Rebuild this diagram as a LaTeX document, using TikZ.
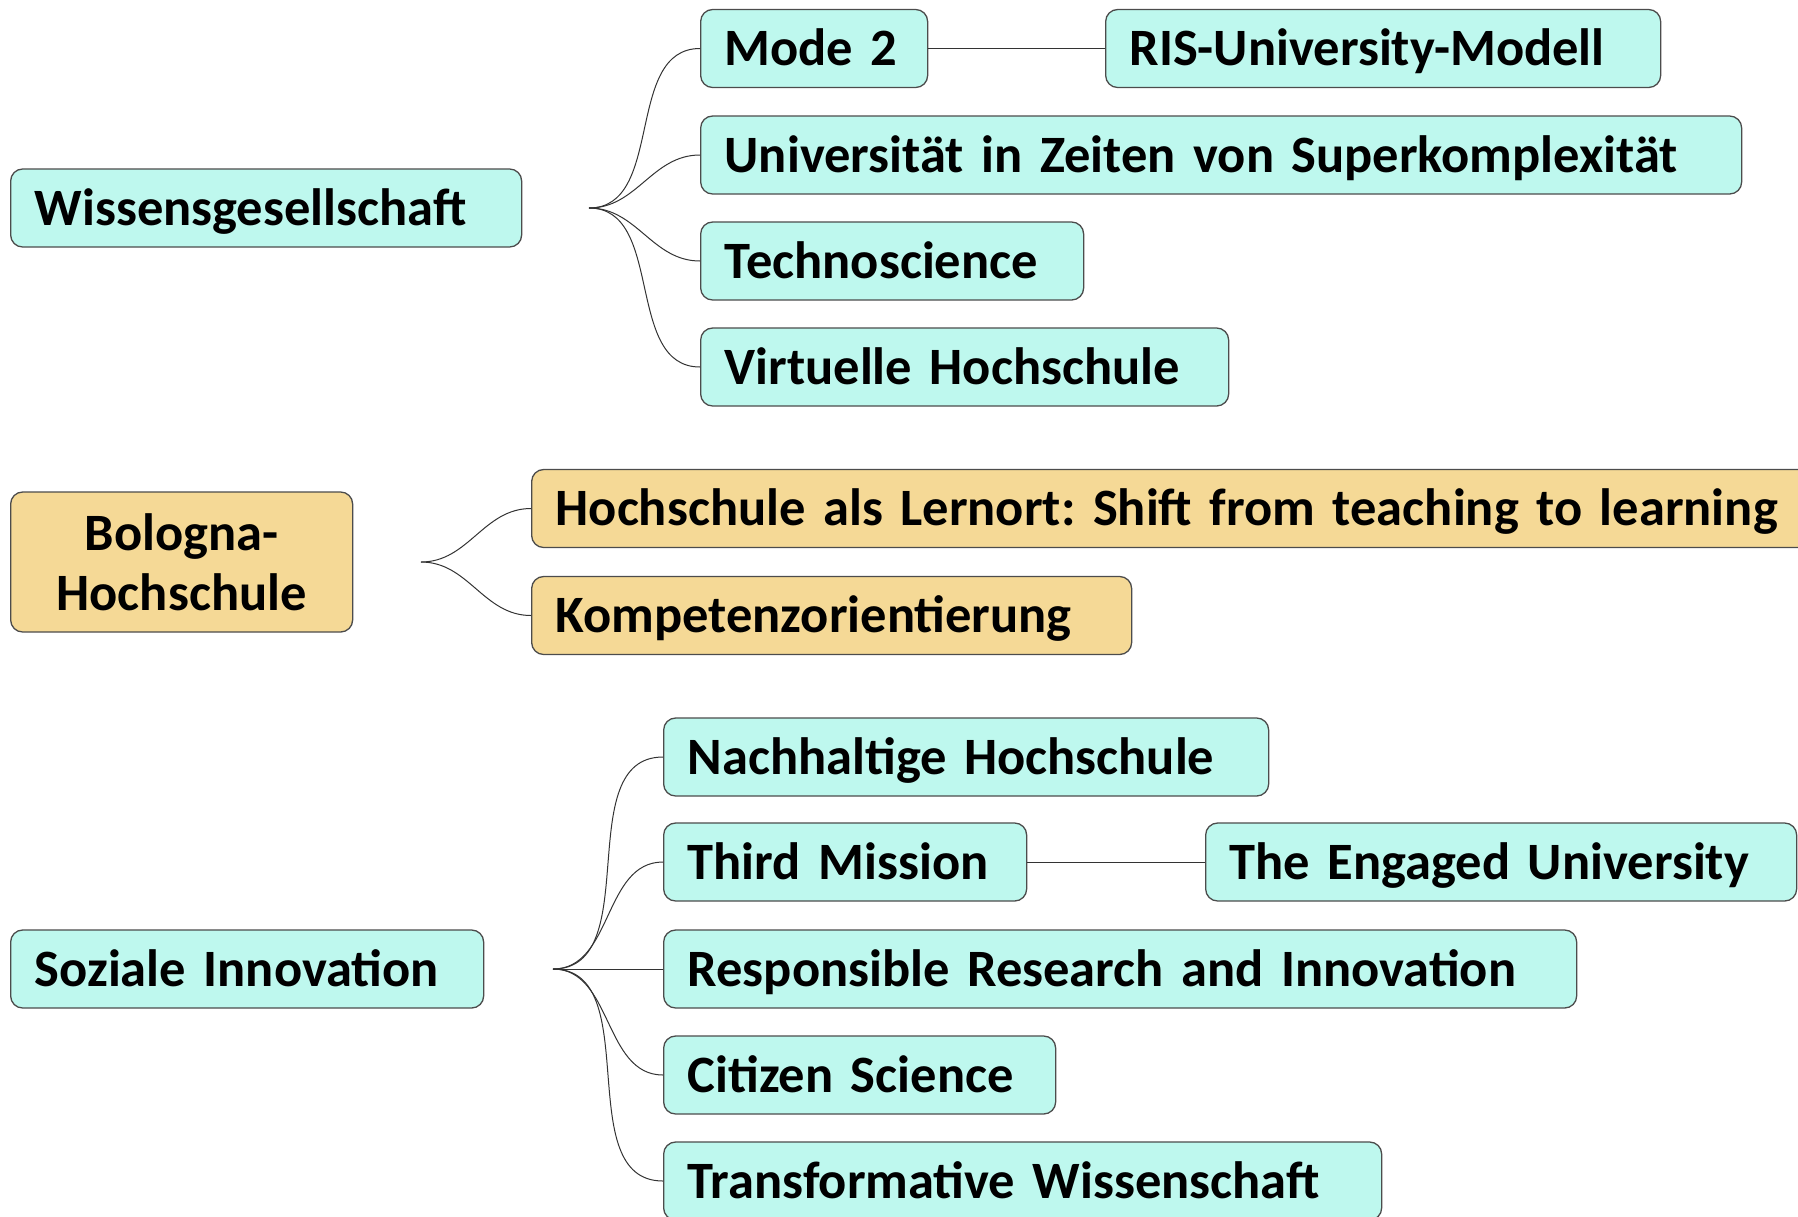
\documentclass[tikz,border=0pt]{standalone}
\usepackage{fontspec}
\setmainfont{Carlito}

\definecolor{mint}{RGB}{190,248,238}
\definecolor{sand}{RGB}{245,217,150}

\begin{document}
\frenchspacing
\begin{tikzpicture}[x=1pt,y=-1pt,
  box/.style={draw=black!70, line width=1.3pt, rounded corners=12pt,
    inner xsep=24pt, inner ysep=0pt, minimum height=78pt, anchor=west,
    align=left, font=\fontsize{52.5}{60}\selectfont\bfseries},
  line1/.style={text height=34pt, text depth=0pt},
  blue/.style={box, line1, fill=mint},
  gold/.style={box, fill=sand},
  link/.style={draw=black!80, line width=1pt}]
\useasboundingbox (0,0) rectangle (1798,1216);

\node[blue, text width=463pt] (wiss) at (10,208) {Wissensgesellschaft};
\node[blue, text width=179pt] (mode) at (700,48.5) {Mode 2};
\node[blue, text width=507pt] (ris) at (1105,48.5) {RIS-University-Modell};
\node[blue, text width=993pt] (uni) at (700,155) {Universität in Zeiten von Superkomplexität};
\node[blue, text width=335pt] (techno) at (700,261) {Technoscience};
\node[blue, text width=480pt] (virt) at (700,367) {Virtuelle Hochschule};

\node[gold, text width=294pt, minimum height=140pt, align=center] (bologna) at (10,562) {Bologna-\\Hochschule};
\node[gold, line1, text width=1252pt] (lern) at (531,508.5) {Hochschule als Lernort: Shift from teaching to learning};
\node[gold, line1, text width=552pt] (komp) at (531,615.5) {Kompetenzorientierung};

\node[blue, text width=425pt] (sozial) at (10,969) {Soziale Innovation};
\node[blue, text width=557pt] (nach) at (663,757) {Nachhaltige Hochschule};
\node[blue, text width=315pt] (third) at (663,862) {Third Mission};
\node[blue, text width=543pt] (engaged) at (1205,862) {The Engaged University};
\node[blue, text width=865pt] (rri) at (663,969) {Responsible Research and Innovation};
\node[blue, text width=344pt] (citizen) at (663,1075) {Citizen Science};
\node[blue, text width=670pt] (trans) at (663,1181) {Transformative Wissenschaft};

\coordinate (hubW) at (589,208);
\coordinate (hubB) at (421,562);
\coordinate (hubS) at (553,969);

\foreach \n in {mode,uni,techno,virt}
  \draw[link] (hubW) to[out=0,in=180] (\n.west);
\foreach \n in {lern,komp}
  \draw[link] (hubB) to[out=0,in=180] (\n.west);
\foreach \n in {nach,third,rri,citizen,trans}
  \draw[link] (hubS) to[out=0,in=180] (\n.west);

\draw[link] (mode.east) -- (ris.west);
\draw[link] (third.east) -- (engaged.west);
\end{tikzpicture}
\end{document}
